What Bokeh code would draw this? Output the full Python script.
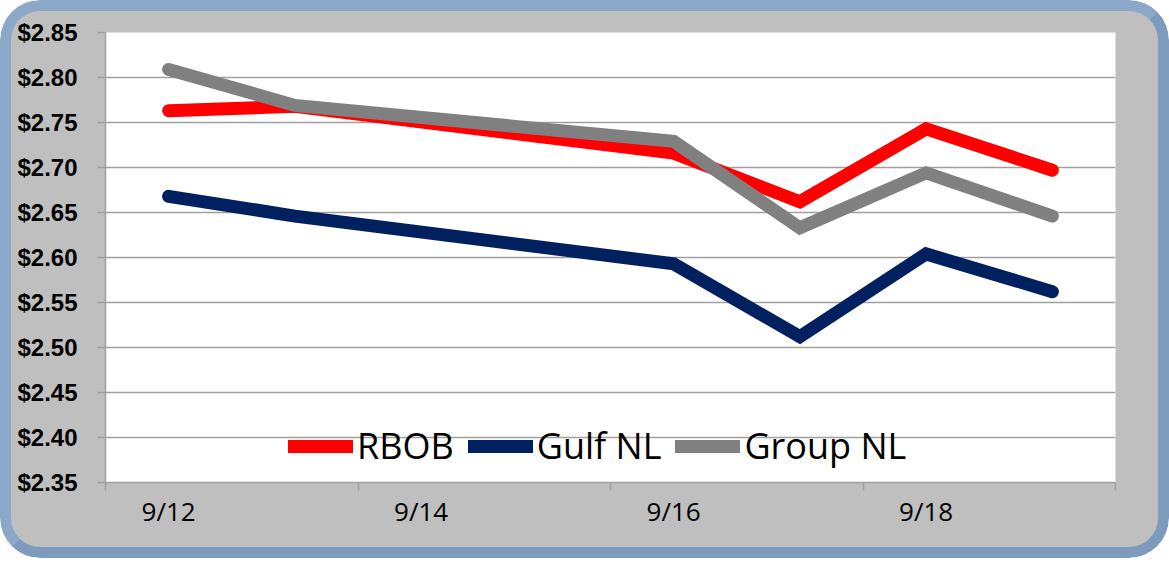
from bokeh.plotting import figure
from bokeh.models import (FixedTicker, Legend, LegendItem, Label, NumeralTickFormatter,
                          Range1d, ColumnDataSource, InlineStyleSheet)
from bokeh.embed import file_html
from bokeh.resources import INLINE

# ---- data ----
title_text = "Gasoline History"
dates = ["9/12", "9/13", "9/16", "9/17", "9/18", "9/19"]
rbob = [2.763, 2.768, 2.716, 2.662, 2.743, 2.697]
gulf_nl = [2.668, 2.646, 2.593, 2.512, 2.604, 2.562]
group_nl = [2.809, 2.769, 2.729, 2.633, 2.694, 2.646]
series_names = ["RBOB", "Gulf NL", "Group NL"]
series_colors = ["#FF0000", "#002060", "#808080"]
x_tick_labels = ["9/12", "9/14", "9/16", "9/18"]
last_day = "9/19"
y_ticks = [2.35, 2.40, 2.45, 2.50, 2.55, 2.60, 2.65, 2.70, 2.75, 2.80, 2.85]

# day offsets from first date (date axis)
def day_of(s):
    return int(s.split("/")[1])

first = day_of(dates[0])
xs = [day_of(d) - first for d in dates]
label_pos = [day_of(t) - first for t in x_tick_labels]
boundary_ticks = [p - 0.5 for p in label_pos] + [day_of(last_day) - first + 0.5]

src = ColumnDataSource(dict(x=xs, rbob=rbob, gulf=gulf_nl, group=group_nl))

W, H = 1169, 558
p = figure(width=W, height=H, output_backend="svg", toolbar_location=None,
           x_range=Range1d(label_pos[0] - 0.5, day_of(last_day) - first + 0.5),
           y_range=Range1d(y_ticks[0], y_ticks[-1]),
           min_border_left=105, min_border_right=54, min_border_top=32, min_border_bottom=76)
p.styles = {"border-radius": "40px", "overflow": "hidden", "isolation": "isolate"}
p.stylesheets = [InlineStyleSheet(css=(
    ":host::before { content: ''; position: absolute; left: 0; top: 0; "
    "width: %dpx; height: %dpx; box-sizing: border-box; background: #BFBFBF; "
    "border: 11px solid #7E9BBE; border-top-color: #8CA8C8; border-left-color: #8CA8C8; "
    "border-radius: 40px; pointer-events: none; z-index: -1; }" % (W, H)))]

p.background_fill_color = "white"
p.border_fill_color = None
p.outline_line_color = None

# axes
p.yaxis.ticker = FixedTicker(ticks=y_ticks)
p.yaxis.formatter = NumeralTickFormatter(format="$0.00")
p.yaxis.major_label_text_font = "Liberation Sans"
p.yaxis.major_label_text_font_style = "bold"
p.yaxis.major_label_text_font_size = "24px"
p.yaxis.major_label_text_color = "black"
p.yaxis.major_tick_out = 8
p.yaxis.major_tick_in = 0
p.yaxis.minor_tick_line_color = None
p.yaxis.major_tick_line_color = "#A0A0A0"
p.yaxis.major_tick_line_width = 1.5
p.yaxis.axis_line_color = "#A0A0A0"
p.yaxis.axis_line_width = 1.5
p.yaxis.major_label_standoff = 20

p.xaxis.ticker = FixedTicker(ticks=label_pos, minor_ticks=boundary_ticks)
p.xaxis.major_label_overrides = {pos: lab for pos, lab in zip(label_pos, x_tick_labels)}
p.xaxis.major_label_text_font = "Open Sans"
p.xaxis.major_label_text_font_size = "26px"
p.xaxis.major_label_text_color = "black"
p.xaxis.major_tick_out = 0
p.xaxis.major_tick_in = 0
p.xaxis.minor_tick_out = 8
p.xaxis.minor_tick_in = 0
p.xaxis.minor_tick_line_color = "#A0A0A0"
p.xaxis.minor_tick_line_width = 1.5
p.xaxis.axis_line_color = "#A0A0A0"
p.xaxis.axis_line_width = 1.5
p.xaxis.major_label_standoff = 2

p.xgrid.visible = False
p.ygrid.grid_line_color = "#A0A0A0"
p.ygrid.grid_line_width = 1.5

renderers = []
for col, name, color in zip(["rbob", "gulf", "group"], series_names, series_colors):
    r = p.line("x", col, source=src, line_width=13, line_color=color,
               line_cap="round", line_join="miter")
    renderers.append(r)

legend = Legend(items=[LegendItem(label=n, renderers=[r]) for n, r in zip(series_names, renderers)],
                orientation="horizontal", location=(183, 12),
                background_fill_alpha=0, border_line_color=None,
                label_text_font="Open Sans", label_text_font_size="36px",
                label_text_color="black",
                glyph_width=65, glyph_height=30, label_standoff=4, spacing=14,
                padding=0, margin=0)
p.add_layout(legend)

title_x = (label_pos[0] + label_pos[-1]) / 2 + 0.476
title_y = y_ticks[-1] + 0.0245
shadow = Label(x=title_x, y=title_y, x_offset=2, y_offset=35, text=title_text,
               text_align="center", text_baseline="alphabetic",
               text_font="Liberation Sans", text_font_style="bold italic",
               text_font_size="78px", text_color="#111111")
title = Label(x=title_x, y=title_y, x_offset=0, y_offset=37, text=title_text,
              text_align="center", text_baseline="alphabetic",
              text_font="Liberation Sans", text_font_style="bold italic",
              text_font_size="78px", text_color="#3A5DB0")
p.add_layout(shadow)
p.add_layout(title)

open("out.html", "w").write(file_html(p, INLINE))
